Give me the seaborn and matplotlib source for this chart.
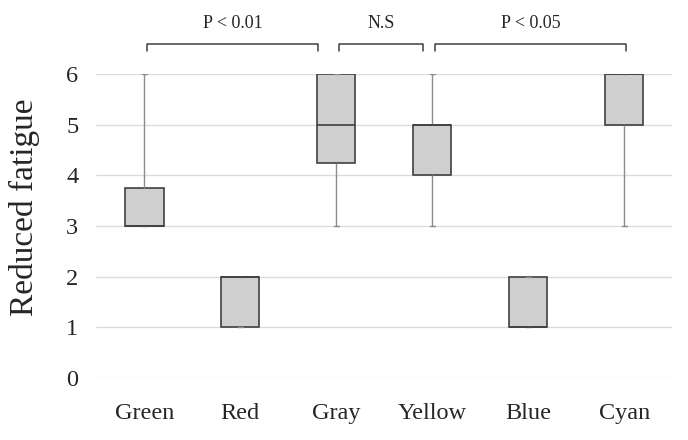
import pandas as pd
import matplotlib
matplotlib.use("Agg")
import matplotlib.pyplot as plt
import seaborn as sns

couleurs = ["Green", "Red", "Gray", "Yellow", "Blue", "Cyan"]
green = [3, 3, 3, 3, 3, 3, 3, 4, 5, 6]
red = [1, 1, 1, 1, 2, 2, 2, 2, 2, 2]
gray = [3, 4, 4, 5, 5, 5, 6, 6, 6, 6]
yellow = [3, 4, 4, 4, 5, 5, 5, 5, 5, 6]
blue = [1, 1, 1, 1, 1, 1, 2, 2, 2, 2]
cyan = [3, 5, 5, 5, 6, 6, 6, 6, 6, 6]

# Comparaisons (début, fin, libellé)
comparaisons = [("Green", "Gray", "P < 0.01"),
                ("Gray", "Yellow", "N.S"),
                ("Yellow", "Cyan", "P < 0.05")]

scores = [green, red, gray, yellow, blue, cyan]
df = pd.DataFrame({
    "couleur": [c for c, s in zip(couleurs, scores) for _ in s],
    "score": [v for s in scores for v in s],
})

sns.set_style("white")
plt.rcParams["font.family"] = ["Liberation Serif", "DejaVu Serif"]

fig = plt.figure(figsize=(6.88, 4.40), dpi=100)
ax = fig.add_axes([0.140, 0.141, 0.837, 0.691])

sns.boxplot(data=df, x="couleur", y="score", order=couleurs, ax=ax,
            whis=(0, 100), width=0.4, color="#d0cfd0", linecolor="#404040",
            linewidth=1.2, saturation=1, showfliers=False,
            whiskerprops={"color": "#8c8c8c", "linewidth": 1.0},
            capprops={"color": "#8c8c8c", "linewidth": 1.0},
            medianprops={"color": "#404040", "linewidth": 1.2},
            capwidths=0.05)

ax.set_xlim(-0.5, 5.5)
ax.set_ylim(0, 6)
ax.set_yticks(range(0, 7))
ax.yaxis.grid(True, color="#dcdcdc", linewidth=1.0)
ax.set_axisbelow(True)
for sp in ax.spines.values():
    sp.set_visible(False)
ax.tick_params(axis="both", length=0, labelsize=17.5)
ax.tick_params(axis="y", pad=13)
ax.tick_params(axis="x", pad=18)
ax.set_xlabel("")
ax.set_ylabel("Reduced fatigue", fontsize=24)
ax.yaxis.set_label_coords(-0.097, 0.561)

# Crochets de significativité
decalages = [(0.03, -0.19), (0.03, -0.10), (0.03, 0.02)]
for (a, b, txt), (da, db) in zip(comparaisons, decalages):
    x0 = couleurs.index(a) + da
    x1 = couleurs.index(b) + db
    ax.plot([x0, x0, x1, x1], [6.46, 6.6, 6.6, 6.46], color="#404040",
            linewidth=1.1, clip_on=False)
    ax.text((x0 + x1) / 2, 6.99, txt, ha="center", va="center",
            fontsize=13, clip_on=False)

plt.savefig("out.png", dpi=100)
